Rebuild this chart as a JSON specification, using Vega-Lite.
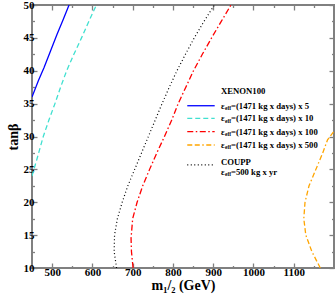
{
  "$schema": "https://vega.github.io/schema/vega-lite/v6.json",
  "width": 302,
  "height": 263,
  "autosize": {"type": "none"},
  "padding": {"left": 32, "top": 5, "right": 2, "bottom": 32},
  "background": "white",
  "config": {
    "view": {"stroke": "#808080", "strokeWidth": 2},
    "axis": {
      "labelFont": "Liberation Serif", "labelFontWeight": "bold", "labelFontSize": 11, "labelColor": "black",
      "titleFont": "Liberation Serif", "titleFontWeight": "bold", "titleFontSize": 14, "titleColor": "black",
      "tickColor": "#808080", "tickWidth": 1.3, "grid": false, "domain": false, "format": "d"
    },
    "text": {"font": "Liberation Serif", "fontWeight": "bold", "fontSize": 8.7, "color": "black"}
  },
  "datasets": {
    "curves": [
      {"s": "x5", "m": 450, "tan": 36}, {"s": "x5", "m": 466, "tan": 38.5}, {"s": "x5", "m": 480, "tan": 40.5}, {"s": "x5", "m": 496, "tan": 43}, {"s": "x5", "m": 512, "tan": 45.5}, {"s": "x5", "m": 527, "tan": 47.7}, {"s": "x5", "m": 542, "tan": 50},
      {"s": "x10", "m": 450, "tan": 24}, {"s": "x10", "m": 462, "tan": 26.5}, {"s": "x10", "m": 478, "tan": 30}, {"s": "x10", "m": 492, "tan": 32.5}, {"s": "x10", "m": 507, "tan": 35}, {"s": "x10", "m": 521, "tan": 37.5}, {"s": "x10", "m": 536, "tan": 40}, {"s": "x10", "m": 554, "tan": 42.5}, {"s": "x10", "m": 573, "tan": 45}, {"s": "x10", "m": 591, "tan": 47.5}, {"s": "x10", "m": 610, "tan": 50},
      {"s": "x100", "m": 701, "tan": 10}, {"s": "x100", "m": 697, "tan": 12.5}, {"s": "x100", "m": 696, "tan": 14.5}, {"s": "x100", "m": 700, "tan": 17.5}, {"s": "x100", "m": 711, "tan": 20}, {"s": "x100", "m": 725, "tan": 22.5}, {"s": "x100", "m": 742, "tan": 25}, {"s": "x100", "m": 760, "tan": 27.5}, {"s": "x100", "m": 779, "tan": 30}, {"s": "x100", "m": 797, "tan": 32.5}, {"s": "x100", "m": 813, "tan": 35}, {"s": "x100", "m": 832, "tan": 37.5}, {"s": "x100", "m": 851, "tan": 40}, {"s": "x100", "m": 873, "tan": 42.5}, {"s": "x100", "m": 896, "tan": 45}, {"s": "x100", "m": 920, "tan": 47.5}, {"s": "x100", "m": 944, "tan": 50},
      {"s": "x500", "m": 1166, "tan": 10}, {"s": "x500", "m": 1145, "tan": 12.5}, {"s": "x500", "m": 1130, "tan": 15}, {"s": "x500", "m": 1125, "tan": 17.5}, {"s": "x500", "m": 1128, "tan": 20}, {"s": "x500", "m": 1138, "tan": 22.5}, {"s": "x500", "m": 1155, "tan": 25}, {"s": "x500", "m": 1172, "tan": 27.5}, {"s": "x500", "m": 1184, "tan": 29.5}, {"s": "x500", "m": 1200, "tan": 30.8},
      {"s": "coupp", "m": 660, "tan": 10}, {"s": "coupp", "m": 654, "tan": 12.5}, {"s": "coupp", "m": 655, "tan": 15}, {"s": "coupp", "m": 662, "tan": 17.5}, {"s": "coupp", "m": 674, "tan": 20}, {"s": "coupp", "m": 688, "tan": 22.5}, {"s": "coupp", "m": 705, "tan": 25}, {"s": "coupp", "m": 722, "tan": 27.5}, {"s": "coupp", "m": 739, "tan": 30}, {"s": "coupp", "m": 756, "tan": 32.5}, {"s": "coupp", "m": 773, "tan": 35}, {"s": "coupp", "m": 791, "tan": 37.5}, {"s": "coupp", "m": 810, "tan": 40}, {"s": "coupp", "m": 831, "tan": 42.5}, {"s": "coupp", "m": 853, "tan": 45}, {"s": "coupp", "m": 877, "tan": 47.5}, {"s": "coupp", "m": 903, "tan": 50}
    ]
  },
  "resolve": {"axis": {"x": "independent", "y": "independent"}},
  "layer": [
    {
      "data": {"name": "curves"},
      "transform": [{"filter": "datum.s === 'x5'"}],
      "mark": {"type": "line", "color": "#0000ff", "strokeWidth": 1.3, "clip": true},
      "encoding": {
        "x": {"field": "m", "type": "quantitative", "scale": {"domain": [450, 1200], "nice": false, "zero": false},
              "axis": {"orient": "bottom", "values": [500, 600, 700, 800, 900, 1000, 1100], "tickSize": -5, "labelPadding": 3, "title": "m₁/₂ (GeV)", "titlePadding": 1}},
        "y": {"field": "tan", "type": "quantitative", "scale": {"domain": [10, 50], "nice": false, "zero": false},
              "axis": {"orient": "left", "values": [10, 15, 20, 25, 30, 35, 40, 45, 50], "tickSize": -5, "labelPadding": 3, "title": "tanβ", "titlePadding": 3}},
        "order": {"field": "tan", "type": "quantitative"}
      }
    },
    {
      "data": {"name": "curves"},
      "transform": [{"filter": "datum.s === 'x10'"}],
      "mark": {"type": "line", "color": "#40e0d0", "strokeWidth": 1.3, "strokeDash": [5, 3], "clip": true},
      "encoding": {
        "x": {"field": "m", "type": "quantitative", "axis": {"orient": "bottom", "values": [450, 550, 650, 750, 850, 950, 1050, 1150], "tickSize": -2.5, "labels": false, "title": null}},
        "y": {"field": "tan", "type": "quantitative", "axis": {"orient": "left", "values": [12.5, 17.5, 22.5, 27.5, 32.5, 37.5, 42.5, 47.5], "tickSize": -2.5, "labels": false, "title": null}},
        "order": {"field": "tan", "type": "quantitative"}
      }
    },
    {
      "data": {"name": "curves"},
      "transform": [{"filter": "datum.s === 'x100'"}],
      "mark": {"type": "line", "color": "#ff0000", "strokeWidth": 1.3, "strokeDash": [6, 2.5, 1.5, 2.5], "clip": true},
      "encoding": {
        "x": {"field": "m", "type": "quantitative", "axis": {"orient": "top", "values": [500, 600, 700, 800, 900, 1000, 1100], "tickSize": -5, "labels": false, "title": null}},
        "y": {"field": "tan", "type": "quantitative", "axis": {"orient": "right", "values": [10, 15, 20, 25, 30, 35, 40, 45, 50], "tickSize": -5, "labels": false, "title": null}},
        "order": {"field": "tan", "type": "quantitative"}
      }
    },
    {
      "data": {"name": "curves"},
      "transform": [{"filter": "datum.s === 'x500'"}],
      "mark": {"type": "line", "color": "#ffa500", "strokeWidth": 1.3, "strokeDash": [5, 2.5, 5, 2.5, 1.5, 2.5], "clip": true},
      "encoding": {
        "x": {"field": "m", "type": "quantitative", "axis": {"orient": "top", "values": [450, 550, 650, 750, 850, 950, 1050, 1150], "tickSize": -2.5, "labels": false, "title": null}},
        "y": {"field": "tan", "type": "quantitative", "axis": {"orient": "right", "values": [12.5, 17.5, 22.5, 27.5, 32.5, 37.5, 42.5, 47.5], "tickSize": -2.5, "labels": false, "title": null}},
        "order": {"field": "tan", "type": "quantitative"}
      }
    },
    {
      "data": {"name": "curves"},
      "transform": [{"filter": "datum.s === 'coupp'"}],
      "mark": {"type": "line", "color": "black", "strokeWidth": 1.2, "strokeDash": [1, 2.5], "clip": true},
      "encoding": {
        "x": {"field": "m", "type": "quantitative", "axis": null},
        "y": {"field": "tan", "type": "quantitative", "axis": null},
        "order": {"field": "tan", "type": "quantitative"}
      }
    },
    {
      "data": {"values": [{"t": "x5"}]},
      "mark": {"type": "rule", "color": "#0000ff", "strokeWidth": 1.3},
      "encoding": {"x": {"datum": 835.6, "type": "quantitative", "axis": null}, "x2": {"datum": 903.7}, "y": {"datum": 34.68, "type": "quantitative", "axis": null}}
    },
    {
      "data": {"values": [{"t": "x10"}]},
      "mark": {"type": "rule", "color": "#40e0d0", "strokeWidth": 1.3, "strokeDash": [5, 3]},
      "encoding": {"x": {"datum": 835.6, "type": "quantitative", "axis": null}, "x2": {"datum": 903.7}, "y": {"datum": 32.77, "type": "quantitative", "axis": null}}
    },
    {
      "data": {"values": [{"t": "x100"}]},
      "mark": {"type": "rule", "color": "#ff0000", "strokeWidth": 1.3, "strokeDash": [6, 2.5, 1.5, 2.5]},
      "encoding": {"x": {"datum": 835.6, "type": "quantitative", "axis": null}, "x2": {"datum": 903.7}, "y": {"datum": 30.73, "type": "quantitative", "axis": null}}
    },
    {
      "data": {"values": [{"t": "x500"}]},
      "mark": {"type": "rule", "color": "#ffa500", "strokeWidth": 1.3, "strokeDash": [5, 2.5, 5, 2.5, 1.5, 2.5]},
      "encoding": {"x": {"datum": 835.6, "type": "quantitative", "axis": null}, "x2": {"datum": 903.7}, "y": {"datum": 28.71, "type": "quantitative", "axis": null}}
    },
    {
      "data": {"values": [{"t": "coupp"}]},
      "mark": {"type": "rule", "color": "black", "strokeWidth": 1.2, "strokeDash": [1, 2.5]},
      "encoding": {"x": {"datum": 835.6, "type": "quantitative", "axis": null}, "x2": {"datum": 903.7}, "y": {"datum": 25.67, "type": "quantitative", "axis": null}}
    },
    {
      "data": {"values": [{"label": "XENON100"}]},
      "mark": {"type": "text", "align": "left", "baseline": "middle"},
      "encoding": {"x": {"datum": 919.3, "type": "quantitative", "axis": null}, "y": {"datum": 36.92, "type": "quantitative", "axis": null}, "text": {"field": "label"}}
    },
    {
      "data": {"values": [{"label": "COUPP"}]},
      "mark": {"type": "text", "align": "left", "baseline": "middle"},
      "encoding": {"x": {"datum": 919.3, "type": "quantitative", "axis": null}, "y": {"datum": 26.08, "type": "quantitative", "axis": null}, "text": {"field": "label"}}
    },
    {
      "data": {"values": [{"eps": "ε", "sub": "eff", "rest": "=(1471 kg x days) x 5"}]},
      "layer": [
        {"mark": {"type": "text", "align": "left", "baseline": "middle"}, "encoding": {"text": {"field": "eps"}}},
        {"mark": {"type": "text", "align": "left", "baseline": "middle", "fontSize": 5.5, "dx": 4, "dy": 2.5}, "encoding": {"text": {"field": "sub"}}},
        {"mark": {"type": "text", "align": "left", "baseline": "middle", "dx": 10}, "encoding": {"text": {"field": "rest"}}}
      ],
      "encoding": {"x": {"datum": 919.3, "type": "quantitative", "axis": null}, "y": {"datum": 34.68, "type": "quantitative", "axis": null}}
    },
    {
      "data": {"values": [{"eps": "ε", "sub": "eff", "rest": "=(1471 kg x days) x 10"}]},
      "layer": [
        {"mark": {"type": "text", "align": "left", "baseline": "middle"}, "encoding": {"text": {"field": "eps"}}},
        {"mark": {"type": "text", "align": "left", "baseline": "middle", "fontSize": 5.5, "dx": 4, "dy": 2.5}, "encoding": {"text": {"field": "sub"}}},
        {"mark": {"type": "text", "align": "left", "baseline": "middle", "dx": 10}, "encoding": {"text": {"field": "rest"}}}
      ],
      "encoding": {"x": {"datum": 919.3, "type": "quantitative", "axis": null}, "y": {"datum": 32.77, "type": "quantitative", "axis": null}}
    },
    {
      "data": {"values": [{"eps": "ε", "sub": "eff", "rest": "=(1471 kg x days) x 100"}]},
      "layer": [
        {"mark": {"type": "text", "align": "left", "baseline": "middle"}, "encoding": {"text": {"field": "eps"}}},
        {"mark": {"type": "text", "align": "left", "baseline": "middle", "fontSize": 5.5, "dx": 4, "dy": 2.5}, "encoding": {"text": {"field": "sub"}}},
        {"mark": {"type": "text", "align": "left", "baseline": "middle", "dx": 10}, "encoding": {"text": {"field": "rest"}}}
      ],
      "encoding": {"x": {"datum": 919.3, "type": "quantitative", "axis": null}, "y": {"datum": 30.73, "type": "quantitative", "axis": null}}
    },
    {
      "data": {"values": [{"eps": "ε", "sub": "eff", "rest": "=(1471 kg x days) x 500"}]},
      "layer": [
        {"mark": {"type": "text", "align": "left", "baseline": "middle"}, "encoding": {"text": {"field": "eps"}}},
        {"mark": {"type": "text", "align": "left", "baseline": "middle", "fontSize": 5.5, "dx": 4, "dy": 2.5}, "encoding": {"text": {"field": "sub"}}},
        {"mark": {"type": "text", "align": "left", "baseline": "middle", "dx": 10}, "encoding": {"text": {"field": "rest"}}}
      ],
      "encoding": {"x": {"datum": 919.3, "type": "quantitative", "axis": null}, "y": {"datum": 28.71, "type": "quantitative", "axis": null}}
    },
    {
      "data": {"values": [{"eps": "ε", "sub": "eff", "rest": "=500 kg x yr"}]},
      "layer": [
        {"mark": {"type": "text", "align": "left", "baseline": "middle"}, "encoding": {"text": {"field": "eps"}}},
        {"mark": {"type": "text", "align": "left", "baseline": "middle", "fontSize": 5.5, "dx": 4, "dy": 2.5}, "encoding": {"text": {"field": "sub"}}},
        {"mark": {"type": "text", "align": "left", "baseline": "middle", "dx": 10}, "encoding": {"text": {"field": "rest"}}}
      ],
      "encoding": {"x": {"datum": 919.3, "type": "quantitative", "axis": null}, "y": {"datum": 24.65, "type": "quantitative", "axis": null}}
    }
  ]
}
